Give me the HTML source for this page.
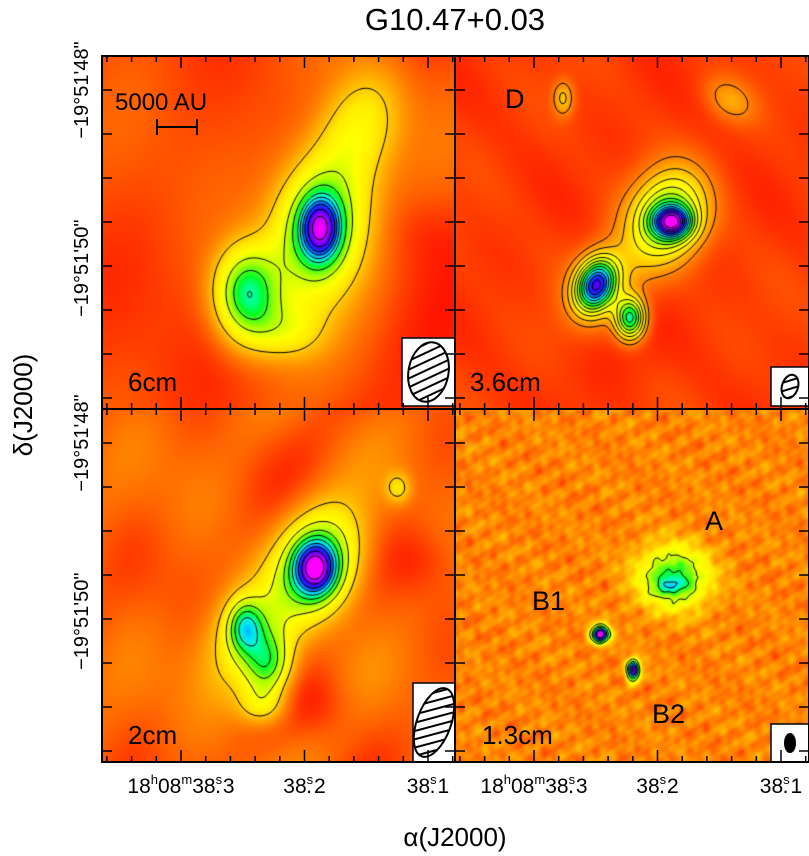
<!DOCTYPE html>
<html><head><meta charset="utf-8"><style>
html,body{margin:0;padding:0;background:#fff;}
#wrap{position:relative;width:809px;height:856px;overflow:hidden;}
canvas{position:absolute;}
svg{position:absolute;left:0;top:0;display:block;font-family:"Liberation Sans","DejaVu Sans",sans-serif;}
</style></head><body>
<div id="wrap">
<canvas id="cv0" width="353" height="353" style="left:102px;top:56px"></canvas>
<canvas id="cv1" width="354" height="353" style="left:455px;top:56px"></canvas>
<canvas id="cv2" width="353" height="353" style="left:102px;top:409px"></canvas>
<canvas id="cv3" width="354" height="353" style="left:455px;top:409px"></canvas>
<svg id="fig" width="809" height="856" viewBox="0 0 809 856" xmlns="http://www.w3.org/2000/svg">
<defs>
<pattern id="hatch" width="8" height="8" patternUnits="userSpaceOnUse" patternTransform="rotate(-35)"><rect width="8" height="8" fill="#fff"/><line x1="0" y1="4" x2="8" y2="4" stroke="#000" stroke-width="2"/></pattern>
</defs>
<text x="455" y="30" font-size="31" text-anchor="middle">G10.47+0.03</text>
<g id="panels"></g>
<g id="axes"></g>
<text transform="translate(32,405) rotate(-90)" font-size="26" text-anchor="middle">δ(J2000)</text>
<text x="455" y="846" font-size="26" text-anchor="middle">α(J2000)</text>
</svg>
</div>
<script>
const panelNames = ['6cm','3.6cm','2cm','1.3cm'];
const raTicks = [38.3, 38.2, 38.1];
const raTickLabels = ['38.3','38.2','38.1'];
const decLabels = ["−19°51'48\"","−19°51'50\""];
const decLabelValues = [48.0, 50.7];
// Gaussian emission components (page px): panel, x, y, amplitude, sigmaX, sigmaY, rotation
const gPanel = [0,0,0,0,0, 1,1,1,1,1,1,1, 2,2,2,2,2,2,2, 3,3,3,3];
const gX   = [320,318,247,360,285, 672,668,596,630,563,730,615, 315,318,245,268,250,262,398, 673,672,600,633];
const gY   = [228,228,294,125,330, 222,215,285,318,98,100,275, 568,565,627,665,640,705,488, 577,585,634,670];
const gAmp = [0.5,0.45,0.47,0.22,0.15, 0.6,0.4,0.7,0.5,0.14,0.1,0.1, 0.55,0.4,0.33,0.3,0.2,0.15,0.14, 0.4,0.15,0.9,0.8];
const gSx  = [14,32,22,28,25, 13,24,13,10,7,18,25, 14,28,12,16,30,16,9, 24,12,6,4.5];
const gSy  = [22,50,32,45,20, 11,30,18,14,12,13,40, 18,38,18,22,40,14,11, 21,6,6,7];
const gRot = [0,12,0,20,0, 0,20,20,0,0,35,40, 0,20,0,0,20,0,0, 0,0,0,0];
const contourLevels = [
  [0.2,0.36,0.46,0.56,0.62,0.68,0.74,0.82,0.92],
  [0.12,0.18,0.25,0.32,0.39,0.46,0.53,0.6,0.67,0.74,0.81,0.88,0.95],
  [0.2,0.32,0.42,0.5,0.58,0.66,0.74,0.84,0.94],
  [0.35,0.5,0.62,0.74,0.86]
];
const cmapT = [0,0.08,0.16,0.24,0.3,0.4,0.5,0.58,0.64,0.72,0.82,0.9,1];
const cmapC = [[255,0,0],[255,95,0],[255,170,0],[255,235,0],[255,255,0],[170,255,0],[0,255,40],[0,255,200],[0,220,255],[0,80,255],[60,0,255],[160,0,255],[255,0,255]];

const panelX0 = [102,455,102,455], panelY0=[56,56,409,409];
const panelW = [353,354,353,354];
function cmap(v){
  if(v<=0) return cmapC[0];
  if(v>=1) return cmapC[cmapC.length-1];
  for(let i=1;i<cmapT.length;i++){ if(v<=cmapT[i]){const f=(v-cmapT[i-1])/(cmapT[i]-cmapT[i-1]);const a=cmapC[i-1],b=cmapC[i];return [a[0]+(b[0]-a[0])*f,a[1]+(b[1]-a[1])*f,a[2]+(b[2]-a[2])*f];}}
}
function background(p,x,y){
  if(p===0) return 0.06+0.028*Math.sin(x*0.021+1.3)*Math.cos(y*0.018+0.4)+0.018*Math.sin(x*0.035+y*0.02+2)-0.035*Math.exp(-((x-420)**2+(y-230)**2)/1800);
  if(p===1) return 0.05+0.012*Math.sin(x*0.03+0.5)*Math.cos(y*0.027+1.1)+0.008*Math.sin(x*0.06-y*0.05)-0.02*Math.exp(-((x-620)**2+(y-345)**2)/1500);
  if(p===2) return 0.085+0.035*Math.sin(x*0.028+0.2)*Math.cos(y*0.03+1.5)+0.02*Math.sin(x*0.05+y*0.03+1)-0.05*Math.exp(-((x-320)**2+(y-705)**2)/1200)-0.045*Math.exp(-((x-420)**2+(y-560)**2)/1200);
  return 0.12+0.022*Math.sin(x*0.21+y*0.07+0.3)*Math.cos(y*0.17-x*0.05)+0.018*Math.sin(x*0.37-y*0.13+1.7)*Math.cos(x*0.11+y*0.23)+0.016*Math.cos(x*0.13+y*0.31+0.8)+0.012*Math.sin(x*0.53+y*0.29)*Math.sin(y*0.41-x*0.07)+0.01*Math.cos(x*0.071-y*0.089);
}
function field(p,x,y){
  let v=background(p,x,y);
  for(let i=0;i<gPanel.length;i++){
    if(gPanel[i]!==p) continue;
    const r=gRot[i]*Math.PI/180, dx=x-gX[i], dy=y-gY[i];
    const u=dx*Math.cos(r)+dy*Math.sin(r), w=-dx*Math.sin(r)+dy*Math.cos(r);
    v+=gAmp[i]*Math.exp(-0.5*(u*u/(gSx[i]*gSx[i])+w*w/(gSy[i]*gSy[i])));
  }
  return v;
}
for(let p=0;p<4;p++){
  const cv=document.getElementById('cv'+p), ctx=cv.getContext('2d');
  const W=cv.width,H=cv.height, img=ctx.createImageData(W,H);
  const F=new Float32Array((W+1)*(H+1));
  for(let j=0;j<=H;j++)for(let i=0;i<=W;i++)F[j*(W+1)+i]=field(p,panelX0[p]+i,panelY0[p]+j);
  for(let j=0;j<H;j++)for(let i=0;i<W;i++){const c=cmap(F[j*(W+1)+i]);const k=(j*W+i)*4;img.data[k]=c[0];img.data[k+1]=c[1];img.data[k+2]=c[2];img.data[k+3]=255;}
  ctx.putImageData(img,0,0);
  ctx.strokeStyle='#000';ctx.lineWidth=1;ctx.beginPath();
  const S=2;
  contourLevels[p].forEach(L=>{
    for(let j=0;j+S<=H;j+=S)for(let i=0;i+S<=W;i+=S){
      const a=F[j*(W+1)+i],b=F[j*(W+1)+i+S],c=F[(j+S)*(W+1)+i+S],d=F[(j+S)*(W+1)+i];
      const pts=[];
      if((a<L)!==(b<L))pts.push([i+S*(L-a)/(b-a),j]);
      if((b<L)!==(c<L))pts.push([i+S,j+S*(L-b)/(c-b)]);
      if((d<L)!==(c<L))pts.push([i+S*(L-d)/(c-d),j+S]);
      if((a<L)!==(d<L))pts.push([i,j+S*(L-a)/(d-a)]);
      if(pts.length>=2){ctx.moveTo(pts[0][0],pts[0][1]);ctx.lineTo(pts[1][0],pts[1][1]);}
      if(pts.length===4){ctx.moveTo(pts[2][0],pts[2][1]);ctx.lineTo(pts[3][0],pts[3][1]);}
    }
  });
  ctx.stroke();
}

const NS = 'http://www.w3.org/2000/svg';
function mk(tag, attrs, parent){const e=document.createElementNS(NS,tag);for(const k in attrs)e.setAttribute(k,attrs[k]);parent.appendChild(e);return e;}
function xOf(ra,p){return 181 + (p%2)*353 + (38.3-ra)*1235;}
function yOf(dec,p){return 90 + (p>=2?353:0) + (dec-48)*66;}
const panels = document.getElementById('panels');
const pg=[];
for(let p=0;p<4;p++){
  const g = mk('g',{},panels);
  
  
  pg.push(g);
  const lab = mk('text',{x:panelX0[p]+ (p===1?15:(p===3?27:26)), y:panelY0[p]+335,'font-size':26},g);
  lab.textContent = panelNames[p];
  
  
}
const srcLabels=[[1,'D',505,108],[3,'A',705,530],[3,'B1',532,610],[3,'B2',652,723]];
srcLabels.forEach(s=>{const t=mk('text',{x:s[2],y:s[3],'font-size':27},pg[s[0]]);t.textContent=s[1];
  
  });
const sb=mk('g',{stroke:'#000','stroke-width':2},pg[0]);


mk('line',{x1:157,y1:127,x2:197,y2:127},sb);mk('line',{x1:157,y1:119,x2:157,y2:135},sb);mk('line',{x1:197,y1:119,x2:197,y2:135},sb);
const sbt=mk('text',{x:115,y:110,'font-size':24},pg[0]);sbt.textContent='5000 AU';


const beams=[[0,402,338,53,68,20,30,10],[1,771,367,38,39,8,12,18],[2,413,683,42,79,17,36,20],[3,771,724,38,38,5,9,0]];
beams.forEach(b=>{const g=pg[b[0]];
  const bx=mk('rect',{x:b[1],y:b[2],width:b[3],height:b[4],fill:'#fff',stroke:'#000','stroke-width':1.5},g);
  
  
  const cx=b[1]+b[3]/2, cy=b[2]+b[4]/2;
  const e=mk('ellipse',{cx:cx,cy:cy,rx:b[5],ry:b[6],transform:'rotate('+b[7]+' '+cx+' '+cy+')',fill:b[0]===3?'#000':'url(#hatch)',stroke:'#000','stroke-width':2},g);
  
  
});
const axes=document.getElementById('axes');
for(let p=0;p<4;p++){
  const x0=panelX0[p],y0=panelY0[p],w=panelW[p];
  const fr=mk('rect',{x:x0,y:y0,width:w,height:353,fill:'none',stroke:'#000','stroke-width':2},axes);
  
  
  for(let i=0;i<=14;i++){
    const ra=38.36-i*0.02, x=xOf(ra,p);
    if(x<x0+1||x>x0+w-1) continue;
    const major=Math.abs(ra*10-Math.round(ra*10))<1e-6, L=major?12:6;
    mk('line',{x1:x,y1:y0,x2:x,y2:y0+L,stroke:'#000','stroke-width':1.5},axes);
    mk('line',{x1:x,y1:y0+353,x2:x,y2:y0+353-L,stroke:'#000','stroke-width':1.5},axes);
  }
  for(let y=yOf(48,p)-44;y<y0+353;y+=44){
    if(y<y0+2) continue;
    mk('line',{x1:x0,y1:y,x2:x0+10,y2:y,stroke:'#000','stroke-width':1.5},axes);
    mk('line',{x1:x0+w,y1:y,x2:x0+w-10,y2:y,stroke:'#000','stroke-width':1.5},axes);
  }
}
for(let c=0;c<2;c++){
  raTicks.forEach((ra,i)=>{
    const x=xOf(ra,2+c);
    const t=mk('text',{x:x,y:793,'font-size':21,'text-anchor':'middle'},axes);
    
    
    const [a,b]=raTickLabels[i].split('.');
    t.innerHTML = (i===0?'18<tspan dy="-9" font-size="13">h</tspan><tspan dy="9">08</tspan><tspan dy="-9" font-size="13">m</tspan><tspan dy="9">'+a+'</tspan>':a)+'<tspan dy="-9" font-size="13">s</tspan><tspan dy="9" dx="-7">.</tspan><tspan dx="2">'+b+'</tspan>';
  });
}
for(let r=0;r<2;r++){
  decLabels.forEach((s,i)=>{
    const y=yOf(decLabelValues[i],r*2);
    const t=mk('text',{transform:'translate(88,'+y+') rotate(-90)','font-size':20,'text-anchor':'middle'},axes);
    t.textContent=s;
    
    
  });
}
</script>
</body></html>
